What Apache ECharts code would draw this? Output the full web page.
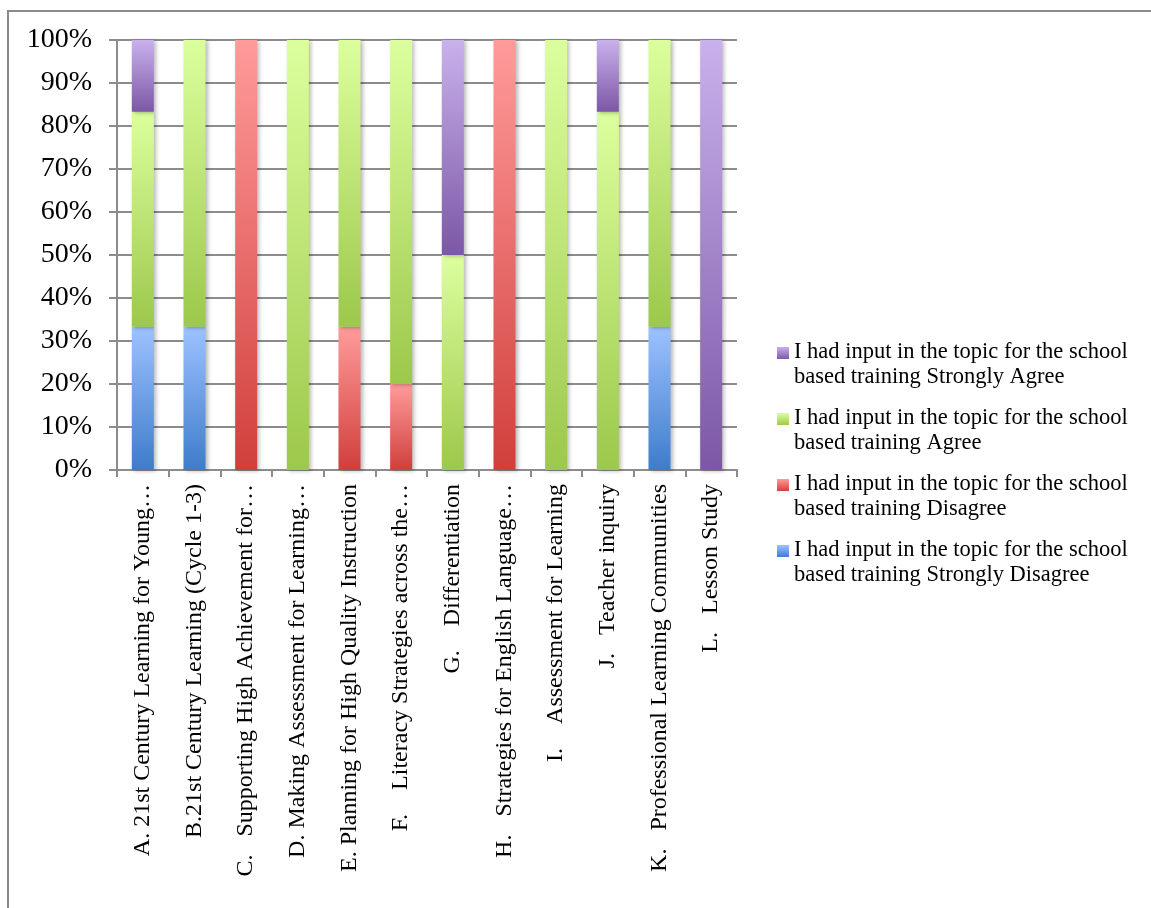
<!DOCTYPE html>
<html>
<head>
<meta charset="utf-8">
<title>School based training topics</title>
<script src="https://cdn.jsdelivr.net/npm/echarts@6/dist/echarts.min.js"></script>
<style>
  html, body { margin: 0; padding: 0; background: #ffffff; }
  #chart { width: 1151px; height: 908px; }
</style>
</head>
<body>
<div id="chart"></div>
<script>
// Training topics (labels as printed under the axis)
const categories = [
  'A. 21st Century Learning for Young…',
  'B.21st Century Learning (Cycle 1-3)',
  'C.   Supporting High Achievement for…',
  'D. Making Assessment for Learning…',
  'E. Planning for High Quality Instruction',
  'F.    Literacy Strategies across the…',
  'G.    Differentiation',
  'H.   Strategies for English Language…',
  'I.    Assessment for Learning',
  'J.   Teacher inquiry',
  'K.   Professional Learning Communities',
  'L.   Lesson Study'
];

// Share of responses (%) per topic
const stronglyDisagree = [33.3, 33.3, 0, 0, 0, 0, 0, 0, 0, 0, 33.3, 0];
const disagree         = [0, 0, 100, 0, 33.3, 20, 0, 100, 0, 0, 0, 0];
const agree            = [50, 66.7, 0, 100, 66.7, 80, 50, 0, 100, 83.3, 66.7, 0];
const stronglyAgree    = [16.7, 0, 0, 0, 0, 0, 50, 0, 0, 16.7, 0, 100];

const yTicks = [0, 10, 20, 30, 40, 50, 60, 70, 80, 90, 100];

const seriesNames = [
  'I had input in the topic for the school based training Strongly Disagree',
  'I had input in the topic for the school based training Disagree',
  'I had input in the topic for the school based training Agree',
  'I had input in the topic for the school based training Strongly Agree'
];

const FONT = 'Liberation Serif';
const GRID_GRAY = '#8c8c8c';

// light (top) -> dark (bottom) shades for each response level
const shades = [
  ['#9dc2ff', '#3e7ccb'],
  ['#ff9b9b', '#d03f3b'],
  ['#dcff9d', '#9cc84b'],
  ['#c9b1ec', '#7c57a6']
];

function barGradient(pair) {
  return new echarts.graphic.LinearGradient(0, 0, 0, 1, [
    { offset: 0, color: pair[0] },
    { offset: 1, color: pair[1] }
  ]);
}
function iconGradient(pair) {
  // the icon box is three squares tall; only the top square is painted
  return new echarts.graphic.LinearGradient(0, 0, 0, 1, [
    { offset: 0, color: pair[0] },
    { offset: 0.34, color: pair[1] },
    { offset: 1, color: pair[1] }
  ]);
}

const values = [stronglyDisagree, disagree, agree, stronglyAgree];

const series = values.map((arr, i) => ({
  name: seriesNames[i],
  type: 'bar',
  stack: 'total',
  barWidth: 22,
  data: arr.map(v => (v === 0 ? '-' : v)),
  itemStyle: {
    color: barGradient(shades[i]),
    shadowColor: 'rgba(0,0,0,0.28)',
    shadowBlur: 4,
    shadowOffsetX: 2,
    shadowOffsetY: 1
  },
  emphasis: { disabled: true }
}));

const legendData = [3, 2, 1, 0].map(i => ({
  name: seriesNames[i],
  itemStyle: { color: iconGradient(shades[i]), shadowBlur: 0, shadowOffsetX: 0, shadowOffsetY: 0 }
}));

const chart = echarts.init(document.getElementById('chart'), null, { renderer: 'canvas' });

chart.setOption({
  backgroundColor: '#ffffff',
  animation: false,
  textStyle: { fontFamily: FONT, color: '#000' },
  graphic: [{
    type: 'rect',
    shape: { x: 8, y: 11, width: 1300, height: 1000 },
    style: { fill: 'none', stroke: '#8a8a8a', lineWidth: 2 },
    silent: true,
    z: -10
  }],
  grid: { left: 117, top: 40, right: 414, bottom: 438, containLabel: false },
  legend: {
    orient: 'vertical',
    left: 777,
    top: 340,
    padding: 0,
    itemGap: 16,
    itemWidth: 12,
    itemHeight: 36,
    icon: 'path://M0,0h12v12h-12zM0,36',
    data: legendData,
    selectedMode: false,
    formatter: name => name.replace(' based', '\nbased'),
    textStyle: { fontFamily: FONT, fontSize: 22.5, lineHeight: 25, color: '#000' }
  },
  xAxis: {
    type: 'category',
    data: categories,
    boundaryGap: true,
    axisLine: { show: true, lineStyle: { color: GRID_GRAY, width: 2 } },
    axisTick: { show: true, length: 7, lineStyle: { color: GRID_GRAY, width: 2 } },
    axisLabel: {
      rotate: 90,
      interval: 0,
      margin: 14,
      fontFamily: FONT,
      fontSize: 24,
      color: '#000'
    },
    splitLine: { show: false }
  },
  yAxis: {
    type: 'value',
    min: yTicks[0],
    max: yTicks[yTicks.length - 1],
    interval: yTicks[1] - yTicks[0],
    axisLine: { show: true, lineStyle: { color: GRID_GRAY, width: 2 } },
    axisTick: { show: true, length: 8, lineStyle: { color: GRID_GRAY, width: 2 } },
    axisLabel: {
      formatter: '{value}%',
      margin: 25,
      fontFamily: FONT,
      fontSize: 28,
      color: '#000'
    },
    splitLine: { show: true, lineStyle: { color: GRID_GRAY, width: 2 } }
  },
  series: series
});
</script>
</body>
</html>
